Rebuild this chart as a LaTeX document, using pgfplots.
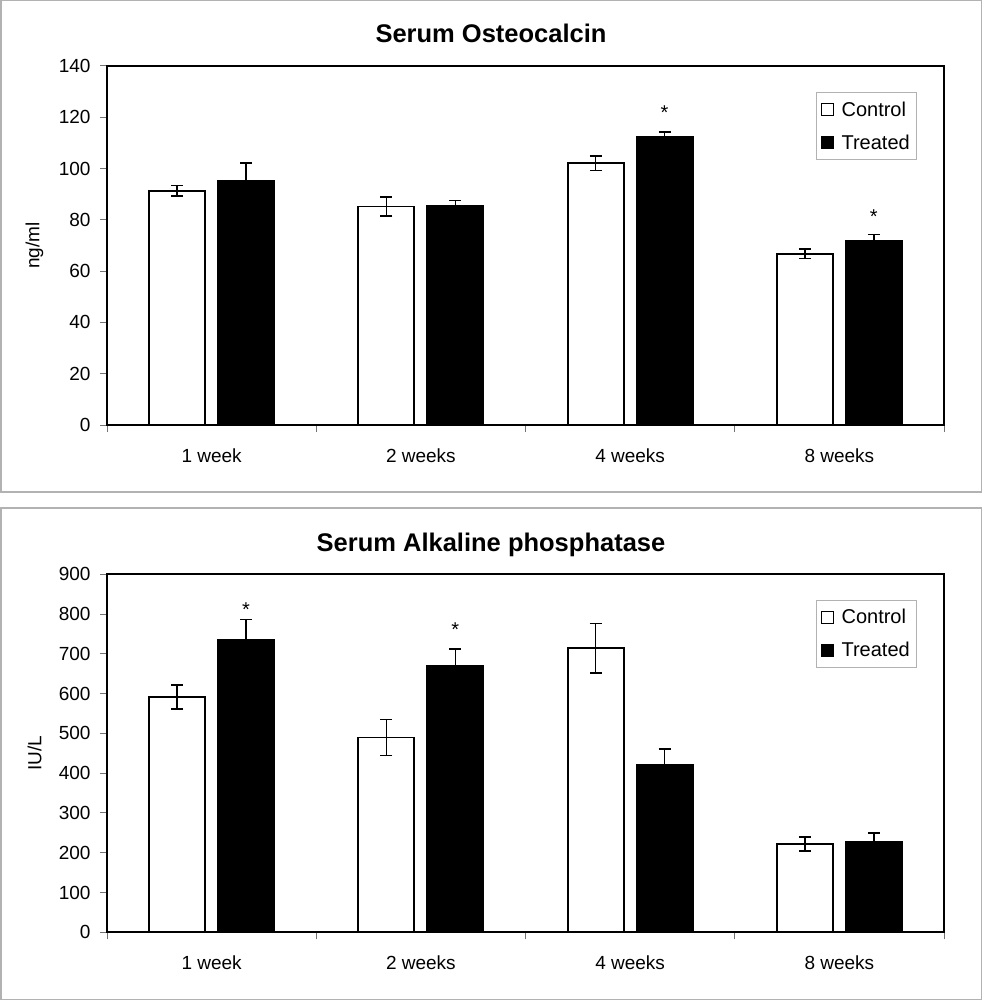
\documentclass[border=0pt]{standalone}
\usepackage{fontspec}
\setmainfont{Liberation Sans}
\usepackage{pgfplots}
\pgfplotsset{compat=1.18}

\pgfplotsset{
  serumaxis/.style={
    scale only axis,
    width=837pt,
    xmin=-0.5, xmax=3.5,
    ymin=0,
    xtick={0,1,2,3},
    xticklabels={1 week,2 weeks,4 weeks,8 weeks},
    major x tick style={draw=none},
    minor xtick={-0.5,0.5,1.5,2.5,3.5},
    minor tick length=7pt,
    major tick length=7pt,
    tick align=outside,
    xtick pos=bottom, ytick pos=left,
    tick style={black!55, line width=1pt},
    axis line style={black, line width=1.8pt},
    /pgf/number format/assume math mode=true,
    ticklabel style={font=\fontsize{19}{22}\selectfont},
    yticklabel style={xshift=-6pt},
    xticklabel style={yshift=-13pt},
    label style={font=\fontsize{19}{22}\selectfont},
    title style={font=\fontsize{25.5}{30}\bfseries, anchor=base, yshift=17pt, xshift=-34.5pt},
    ybar, bar width=56pt,
    legend cell align=left,
    legend image code/.code={\draw[#1, line width=1pt] (0pt,-6pt) rectangle (12pt,6pt);
      \path[draw=none, fill=none] (12pt,0pt) -- (18pt,0pt);},
    legend style={draw=black!30, line width=0.8pt, anchor=north west,
      font=\fontsize{20}{22}\selectfont, row sep=17pt,
      inner xsep=5pt, inner ysep=9pt,
      nodes={inner xsep=2pt, inner ysep=0pt}},
  },
  ctrl/.style={fill=white, draw=black, line width=1.8pt, bar shift=-34.5pt,
    error bars/.cd, y dir=both, y explicit,
    error bar style={black, line width=1.6pt},
    error mark options={rotate=90, mark size=6pt, line width=1.6pt, black}},
  trt/.style={fill=black, draw=black, line width=1.8pt, bar shift=34.5pt,
    error bars/.cd, y dir=both, y explicit,
    error bar style={black, line width=1.6pt},
    error mark options={rotate=90, mark size=6pt, line width=1.6pt, black}},
}

\begin{document}
\begin{tikzpicture}[x=1pt, y=1pt]
\useasboundingbox (0,0) rectangle (983,-1000);
\draw[black!30, line width=1.5pt] (0.75,-0.75) rectangle (981.5,-492);
\draw[black!30, line width=1.5pt] (0.75,-508) rectangle (981.5,-999.25);

% top panel
\begin{axis}[serumaxis,
  at={(107pt,-425pt)}, anchor=south west,
  height=359pt,
  ymax=140, ytick={0,20,...,140},
  title={Serum Osteocalcin},
  ylabel={ng/ml},
  ylabel style={at={(axis description cs:-0.0866,0.5)}, anchor=center},
  legend style={at={(rel axis cs:0.8467,0.9267)}},
]
\addplot[ctrl] coordinates {
  (0,91.4) +- (0,2.0)
  (1,85.2) +- (0,3.6)
  (2,102.1) +- (0,2.8)
  (3,66.8) +- (0,1.8)
};
\addplot[trt] coordinates {
  (0,95.3) +- (0,6.8)
  (1,85.3) +- (0,2.3)
  (2,112.2) +- (0,2.0)
  (3,71.9) +- (0,2.4)
};
\legend{Control, Treated}
\node[font=\fontsize{20}{22}\selectfont, anchor=base, xshift=34.5pt] at (axis cs:2,119.1) {*};
\node[font=\fontsize{20}{22}\selectfont, anchor=base, xshift=34.5pt] at (axis cs:3,78.6) {*};
\end{axis}

% bottom panel
\begin{axis}[serumaxis,
  at={(107pt,-932.3pt)}, anchor=south west,
  height=358pt,
  ymax=900, ytick={0,100,...,900},
  title={Serum Alkaline phosphatase},
  ylabel={IU/L},
  ylabel style={at={(axis description cs:-0.0866,0.5)}, anchor=center},
  legend style={at={(rel axis cs:0.8467,0.928)}},
]
\addplot[ctrl] coordinates {
  (0,591) +- (0,30)
  (1,490) +- (0,45)
  (2,714) +- (0,62)
  (3,222) +- (0,18)
};
\addplot[trt] coordinates {
  (0,734) +- (0,52)
  (1,669) +- (0,44)
  (2,421) +- (0,40)
  (3,227) +- (0,23)
};
\legend{Control, Treated}
\node[font=\fontsize{20}{22}\selectfont, anchor=base, xshift=34.5pt] at (axis cs:0,794) {*};
\node[font=\fontsize{20}{22}\selectfont, anchor=base, xshift=34.5pt] at (axis cs:1,743) {*};
\end{axis}
\end{tikzpicture}
\end{document}
